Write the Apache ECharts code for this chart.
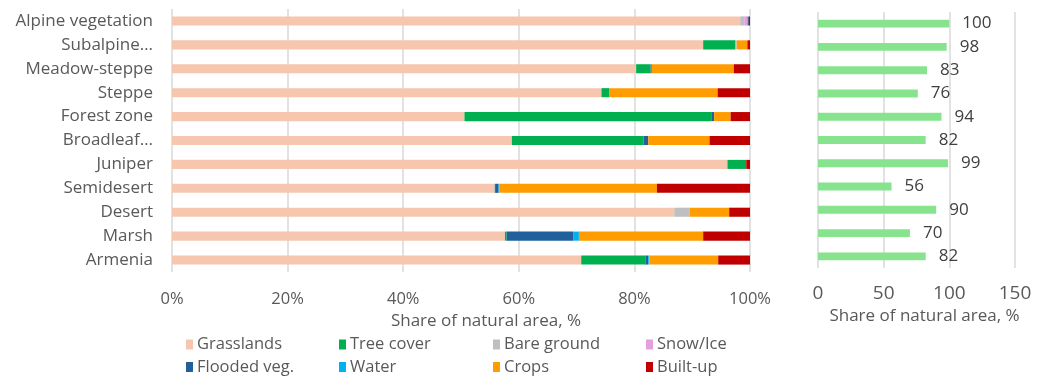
<!DOCTYPE html>
<html>
<head>
<meta charset="utf-8">
<script src="https://cdn.jsdelivr.net/npm/echarts@6/dist/echarts.min.js"></script>
<style>html,body{margin:0;padding:0;background:#fff}#c{width:1052px;height:389px}</style>
</head>
<body>
<div id="c"></div>
<script>
const categories = ['Alpine vegetation','Subalpine…','Meadow-steppe','Steppe','Forest zone','Broadleaf…','Juniper','Semidesert','Desert','Marsh','Armenia'];
const grasslands = [98.3, 91.9, 80.3, 74.3, 50.6, 58.8, 96.1, 55.7, 86.9, 57.6, 70.8];
const treeCover  = [0,    5.6,  2.5,  1.4,  42.7, 22.8, 3.25, 0,    0,    0.3,  11.1];
const bareGround = [0.7,  0.2,  0,    0,    0,    0,    0,    0.2,  2.7,  0,    0];
const snowIce    = [0.6,  0,    0,    0,    0,    0,    0,    0,    0,    0,    0];
const floodedVeg = [0.2,  0,    0.2,  0,    0.5,  0.8,  0,    0.6,  0,    11.5, 0.5];
const water      = [0,    0,    0,    0,    0,    0,    0,    0.1,  0,    1.0,  0.2];
const crops      = [0,    1.85, 14.2, 18.7, 2.85, 10.6, 0,    27.3, 6.8,  21.5, 11.9];
const builtUp    = [0.2,  0.45, 2.85, 5.6,  3.35, 7.0,  0.65, 16.1, 3.6,  8.1,  5.5];
const naturalShare = [100, 98, 83, 76, 94, 82, 99, 56, 90, 70, 82];
const leftTicks = [0, 20, 40, 60, 80, 100];
const rightTicks = [0, 50, 100, 150];

const seriesDefs = [
  ['Grasslands', grasslands, '#F6C7AE'],
  ['Tree cover', treeCover, '#00B050'],
  ['Bare ground', bareGround, '#BFBFBF'],
  ['Snow/Ice', snowIce, '#E59FDC'],
  ['Flooded veg.', floodedVeg, '#22609B'],
  ['Water', water, '#00B0F0'],
  ['Crops', crops, '#FF9C00'],
  ['Built-up', builtUp, '#C00000']
];
const font = '"Open Sans", "Noto Sans", sans-serif';
const txt = '#595959';

const series = seriesDefs.map(([name, data, color]) => ({
  name, type: 'bar', stack: 'lc', data, xAxisIndex: 0, yAxisIndex: 0,
  barWidth: '38%', itemStyle: { color }, emphasis: { disabled: true }
}));
series.push({
  name: 'Natural', type: 'bar', data: naturalShare, xAxisIndex: 1, yAxisIndex: 1,
  barWidth: '34%', itemStyle: { color: '#88E38F' },
  label: { show: true, position: 'right', distance: 13, color: '#404040', fontSize: 17, fontFamily: font }
});

const colX = [186, 339, 493, 646];
const rowY = [336, 358.5];
const legends = seriesDefs.map(([name], i) => ({
  data: [name], left: colX[i % 4], top: rowY[Math.floor(i / 4)], padding: 0,
  itemWidth: 7, itemHeight: 10, itemGap: 4, icon: 'rect',
  textStyle: { color: txt, fontSize: 16.5, fontFamily: font, padding: [0, 0, 0, -1] },
  selectedMode: false
}));

const chart = echarts.init(document.getElementById('c'));
chart.setOption({
  animation: false,
  textStyle: { fontFamily: font },
  legend: legends,
  grid: [
    { left: 172, width: 578, top: 9, height: 263 },
    { left: 818, width: 197, top: 12, height: 256 }
  ],
  xAxis: [
    { type: 'value', gridIndex: 0, min: 0, max: 100, interval: 20,
      axisLine: { show: false }, axisTick: { show: false },
      splitLine: { lineStyle: { color: '#D9D9D9', width: 1.5 } },
      axisLabel: { formatter: v => leftTicks.includes(v) ? v + '%' : '', color: txt, fontSize: 16.5, margin: 18.5, fontFamily: font },
      name: 'Share of natural area, %', nameLocation: 'middle', nameGap: 31,
      nameTextStyle: { color: txt, fontSize: 17, fontFamily: font, padding: [0, 0, 0, 50] } },
    { type: 'value', gridIndex: 1, min: 0, max: 150, interval: 50,
      axisLine: { show: false }, axisTick: { show: false },
      splitLine: { lineStyle: { color: '#D9D9D9', width: 1.5 } },
      axisLabel: { formatter: v => rightTicks.includes(v) ? String(v) : '', color: txt, fontSize: 19, margin: 16, fontFamily: font },
      name: 'Share of natural area, %', nameLocation: 'middle', nameGap: 31,
      nameTextStyle: { color: txt, fontSize: 17, fontFamily: font, padding: [0, 0, 0, 16] } }
  ],
  yAxis: [
    { type: 'category', gridIndex: 0, data: categories, inverse: true,
      axisLine: { show: false }, axisTick: { show: false },
      axisLabel: { color: txt, fontSize: 17, margin: 19, fontFamily: font } },
    { type: 'category', gridIndex: 1, data: categories, inverse: true,
      axisLine: { show: false }, axisTick: { show: false }, axisLabel: { show: false } }
  ],
  series
});
</script>
</body>
</html>
